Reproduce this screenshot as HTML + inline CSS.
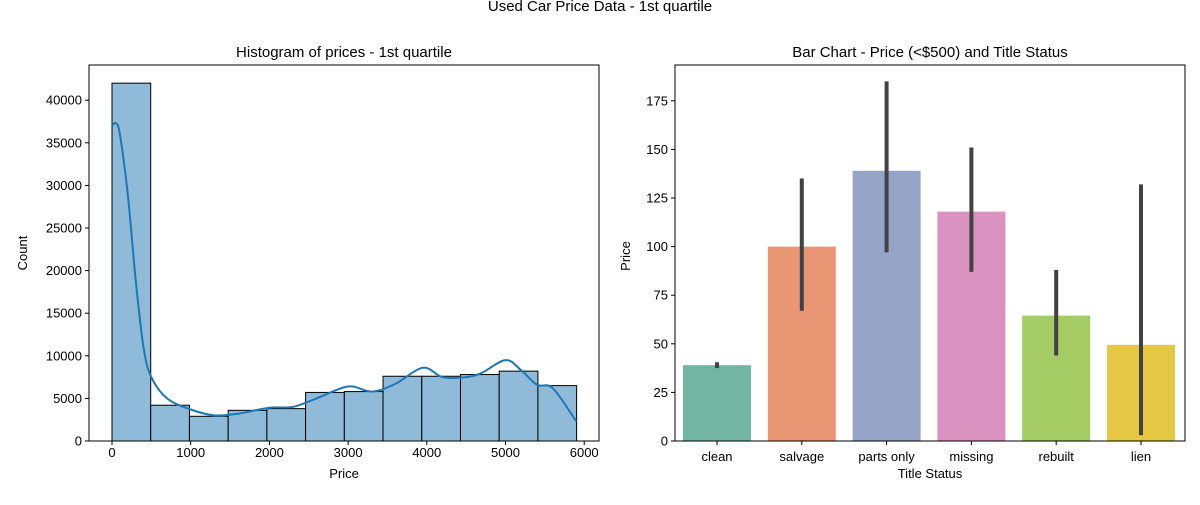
<!DOCTYPE html>
<html><head><meta charset="utf-8"><style>
body{margin:0;background:#fff;font-family:"Liberation Sans",sans-serif;}
svg text{font-family:"Liberation Sans","DejaVu Sans",sans-serif;fill:#000;}
</style></head><body>
<svg id="fig" width="1200" height="500" xmlns="http://www.w3.org/2000/svg">
<rect width="1200" height="500" fill="#fff"/>
<text x="600" y="7" font-size="15" text-anchor="middle" dominant-baseline="middle">Used Car Price Data - 1st quartile</text>
<g id="left"></g>
<g id="right"></g>
</svg>
<script>
const binCounts=[42000,4200,2900,3600,3800,5700,5800,7600,7600,7800,8200,6500];
const binStart=0, binWidth=492;
const kdeX=[0,50,100,200,300,400,500,700,1000,1300,1600,2000,2300,2600,3000,3300,3600,3950,4200,4500,4700,5000,5200,5400,5600,5900];
const kdeY=[37000,37300,36000,29000,19000,11000,7500,5000,3700,3000,3200,3900,4000,5000,6400,5800,6700,8600,7500,7500,8000,9500,8300,6600,6200,2300];
const histXTicks=[0,1000,2000,3000,4000,5000,6000];
const histYTicks=[0,5000,10000,15000,20000,25000,30000,35000,40000];
const cats=["clean","salvage","parts only","missing","rebuilt","lien"];
const means=[39,100,139,118,64.5,49.5];
const errLo=[37.5,67,97,87,44,3];
const errHi=[40.5,135,185,151,88,132];
const barYTicks=[0,25,50,75,100,125,150,175];
const barColors=["#72b6a1","#e99675","#95a3c6","#da93c0","#a4cb64","#e5c645"];
const NS="http://www.w3.org/2000/svg";
function mk(p,t,a,txt){const e=document.createElementNS(NS,t);for(const k in a)e.setAttribute(k,a[k]);if(txt!==undefined)e.textContent=txt;p.appendChild(e);return e;}
// left
const L=document.getElementById('left');
const lx0=89,lx1=599,ly0=65,ly1=441;
const hx=v=>112+v*0.0787, hy=v=>441-v*0.00852;
binCounts.forEach((c,i)=>{const a=binStart+i*binWidth;const r=mk(L,'rect',{x:hx(a),y:hy(c),width:hx(a+binWidth)-hx(a),height:hy(0)-hy(c),fill:'#8fbbd9',stroke:'#000','stroke-width':1});

});
const pts=kdeX.map((x,i)=>[hx(x),hy(kdeY[i])]);
let d='M'+pts[0][0].toFixed(1)+','+pts[0][1].toFixed(1);
for(let i=0;i<pts.length-1;i++){const p0=pts[Math.max(0,i-1)],p1=pts[i],p2=pts[i+1],p3=pts[Math.min(pts.length-1,i+2)];
const c1=[p1[0]+(p2[0]-p0[0])/6,p1[1]+(p2[1]-p0[1])/6],c2=[p2[0]-(p3[0]-p1[0])/6,p2[1]-(p3[1]-p1[1])/6];
d+=' C'+c1.map(v=>v.toFixed(1)).join(',')+' '+c2.map(v=>v.toFixed(1)).join(',')+' '+p2.map(v=>v.toFixed(1)).join(',');}
const kl=mk(L,'path',{d:d,fill:'none',stroke:'#1f77b4','stroke-width':2,'stroke-linejoin':'round'});


const lf=mk(L,'rect',{x:lx0,y:ly0,width:lx1-lx0,height:ly1-ly0,fill:'none',stroke:'#000','stroke-width':1});


histXTicks.forEach(t=>{mk(L,'line',{x1:hx(t),x2:hx(t),y1:ly1,y2:ly1+4,stroke:'#000'});const e=mk(L,'text',{x:hx(t),y:ly1+16,'font-size':13,'text-anchor':'middle'},String(t));

});
histYTicks.forEach(t=>{mk(L,'line',{x1:lx0-4,x2:lx0,y1:hy(t),y2:hy(t),stroke:'#000'});const e=mk(L,'text',{x:lx0-7,y:hy(t)+4.5,'font-size':13,'text-anchor':'end'},String(t));

});
let e;
e=mk(L,'text',{x:344,y:57,'font-size':15,'text-anchor':'middle'},'Histogram of prices - 1st quartile');


e=mk(L,'text',{x:344,y:478,'font-size':13,'text-anchor':'middle'},'Price');


e=mk(L,'text',{x:27,y:253,'font-size':13,'text-anchor':'middle',transform:'rotate(-90 27 253)'},'Count');


// right
const R=document.getElementById('right');
const rx0=675,rx1=1185,ry0=65,ry1=441;
const by=v=>441-v*1.944;
const bx=i=>717+i*84.8;
cats.forEach((c,i)=>{const r=mk(R,'rect',{x:bx(i)-34,y:by(means[i]),width:68,height:by(0)-by(means[i]),fill:barColors[i]});


const l=mk(R,'line',{x1:bx(i),x2:bx(i),y1:by(errLo[i]),y2:by(errHi[i]),stroke:'#424242','stroke-width':4});


mk(R,'line',{x1:bx(i),x2:bx(i),y1:ry1,y2:ry1+4,stroke:'#000'});
const t=mk(R,'text',{x:bx(i),y:ry1+20,'font-size':13,'text-anchor':'middle'},c);

});
const rf=mk(R,'rect',{x:rx0,y:ry0,width:rx1-rx0,height:ry1-ry0,fill:'none',stroke:'#000','stroke-width':1});


barYTicks.forEach(t=>{mk(R,'line',{x1:rx0-4,x2:rx0,y1:by(t),y2:by(t),stroke:'#000'});const e=mk(R,'text',{x:rx0-7,y:by(t)+4.5,'font-size':13,'text-anchor':'end'},String(t));

});
e=mk(R,'text',{x:930,y:57,'font-size':15,'text-anchor':'middle'},'Bar Chart - Price (<$500) and Title Status');


e=mk(R,'text',{x:930,y:478,'font-size':13,'text-anchor':'middle'},'Title Status');


e=mk(R,'text',{x:630,y:256,'font-size':13,'text-anchor':'middle',transform:'rotate(-90 630 256)'},'Price');


</script>
</body></html>
